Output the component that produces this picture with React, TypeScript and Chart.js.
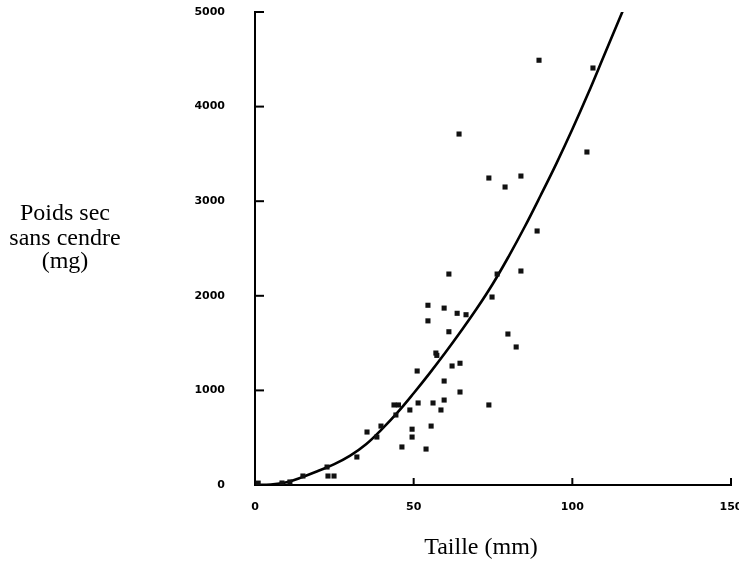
import React, { useEffect, useRef } from "react";
import { Chart, registerables } from "chart.js";

Chart.register(...registerables);

// Observed specimens: size (mm) and ash-free dry weight (mg)
const sizeMm: number[] = [
  89.5, 106.5, 64.3, 73.7, 104.6, 78.8, 83.8, 88.9, 83.8, 74.7, 79.7, 76.3,
  61.1, 54.5, 59.6, 63.7, 66.5, 54.5, 61.1, 57.0, 57.3, 62.1, 64.6, 51.1,
  59.6, 64.6, 73.7, 43.8, 45.2, 51.4, 56.1, 59.6, 58.6, 48.8, 44.4, 49.5,
  49.5, 55.5, 46.3, 53.9, 35.3, 39.7, 38.4, 32.1, 23.0, 24.9, 22.7, 15.1,
  11.0, 8.5, 1.0, 82.3,
];
const weightMg: number[] = [
  4490, 4408, 3710, 3245, 3520, 3150, 3266, 2685, 2262, 1987, 1596, 2230,
  2230, 1900, 1870, 1815, 1800, 1735, 1620, 1395, 1370, 1258, 1287, 1205,
  1099, 983, 846, 846, 846, 867, 867, 898, 793, 793, 740, 590,
  507, 623, 402, 380, 560, 623, 507, 296, 95, 95, 190, 95,
  32, 21, 20, 1459,
];

// Fitted curve
const curveX: number[] = [0, 5, 10, 15, 20, 25, 30, 35, 40, 45, 50, 55, 60, 65, 70, 75, 80, 85, 90, 95, 100, 105, 110, 116];
const curveY: number[] = [0, 5, 30, 85, 150, 220, 310, 430, 590, 770, 970, 1180, 1400, 1630, 1870, 2130, 2420, 2730, 3060, 3400, 3760, 4140, 4540, 5020];

const xTicks: number[] = [0, 50, 100, 150];
const yTicks: number[] = [0, 1000, 2000, 3000, 4000, 5000];

const xTitle = "Taille (mm)";
const yTitleLines: string[] = ["Poids sec", "sans cendre", "(mg)"];

export default function App() {
  const canvasRef = useRef<HTMLCanvasElement | null>(null);

  useEffect(() => {
    if (!canvasRef.current) return;

    const decorPlugin = {
      id: "decor",
      afterDraw(chart: any) {
        const ctx = chart.ctx;
        const xs = chart.scales.x;
        const ys = chart.scales.y;
        const area = chart.chartArea;
        ctx.save();
        ctx.strokeStyle = "#000";
        ctx.lineWidth = 2;
        // inward ticks on y axis
        yTicks.forEach((v) => {
          if (v === 0) return;
          const py = ys.getPixelForValue(v);
          ctx.beginPath();
          ctx.moveTo(area.left, py);
          ctx.lineTo(area.left + 9, py);
          ctx.stroke();
        });
        // inward ticks on x axis
        xTicks.forEach((v) => {
          if (v === 0) return;
          const px = xs.getPixelForValue(v);
          ctx.beginPath();
          ctx.moveTo(px, area.bottom);
          ctx.lineTo(px, area.bottom - 7);
          ctx.stroke();
        });
        // titles
        ctx.fillStyle = "#000";
        ctx.font = "24px 'Liberation Serif', 'Times New Roman', serif";
        ctx.textAlign = "center";
        ctx.textBaseline = "alphabetic";
        ctx.fillText(xTitle, 481, 554);
        const baselines = [220, 245, 268];
        yTitleLines.forEach((t, i) => ctx.fillText(t, 65, baselines[i]));
        ctx.restore();
      },
    };

    const tickFont = { family: "'DejaVu Sans', sans-serif", size: 11, weight: "bold" };

    const chart = new Chart(canvasRef.current, {
      type: "scatter",
      data: {
        datasets: [
          {
            label: "Observations",
            data: sizeMm.map((x, i) => ({ x, y: weightMg[i] })),
            pointStyle: "rect",
            pointRadius: 3.6,
            pointHoverRadius: 3.6,
            backgroundColor: "#111",
            borderColor: "#111",
            borderWidth: 0,
            showLine: false,
          },
          {
            label: "Ajustement",
            data: curveX.map((x, i) => ({ x, y: curveY[i] })),
            showLine: true,
            pointRadius: 0,
            borderColor: "#000",
            borderWidth: 2.6,
            tension: 0.4,
            fill: false,
          },
        ],
      },
      options: {
        animation: false,
        responsive: false,
        maintainAspectRatio: false,
        layout: { padding: { top: 12, right: 8, left: 0, bottom: 0 } },
        plugins: {
          legend: { display: false },
          tooltip: { enabled: false },
          title: { display: false },
        },
        scales: {
          x: {
            type: "linear",
            min: 0,
            max: 150,
            afterBuildTicks: (scale: any) => {
              scale.ticks = xTicks.map((v) => ({ value: v }));
            },
            afterFit: (scale: any) => {
              scale.height = 77;
              scale.paddingLeft = 0;
              scale.paddingRight = 0;
            },
            grid: { display: false, drawTicks: false },
            border: { display: true, color: "#000", width: 2 },
            ticks: {
              color: "#000",
              padding: 16,
              maxRotation: 0,
              autoSkip: false,
              font: tickFont,
              callback: (v: any) => String(v),
            },
          },
          y: {
            type: "linear",
            min: 0,
            max: 5000,
            afterBuildTicks: (scale: any) => {
              scale.ticks = yTicks.map((v) => ({ value: v }));
            },
            afterFit: (scale: any) => {
              scale.width = 255;
              scale.paddingTop = 0;
              scale.paddingBottom = 0;
            },
            grid: { display: false, drawTicks: false },
            border: { display: true, color: "#000", width: 2 },
            ticks: {
              color: "#000",
              padding: 30,
              autoSkip: false,
              font: tickFont,
              callback: (v: any) => String(v),
            },
          },
        },
      },
      plugins: [decorPlugin],
    } as any);

    return () => {
      chart.destroy();
    };
  }, []);

  return (
    <div style={{ position: "fixed", left: 0, top: 0, width: 739, height: 562, background: "#fff" }}>
      <canvas ref={canvasRef} width={739} height={562} style={{ width: 739, height: 562, display: "block" }} />
    </div>
  );
}
